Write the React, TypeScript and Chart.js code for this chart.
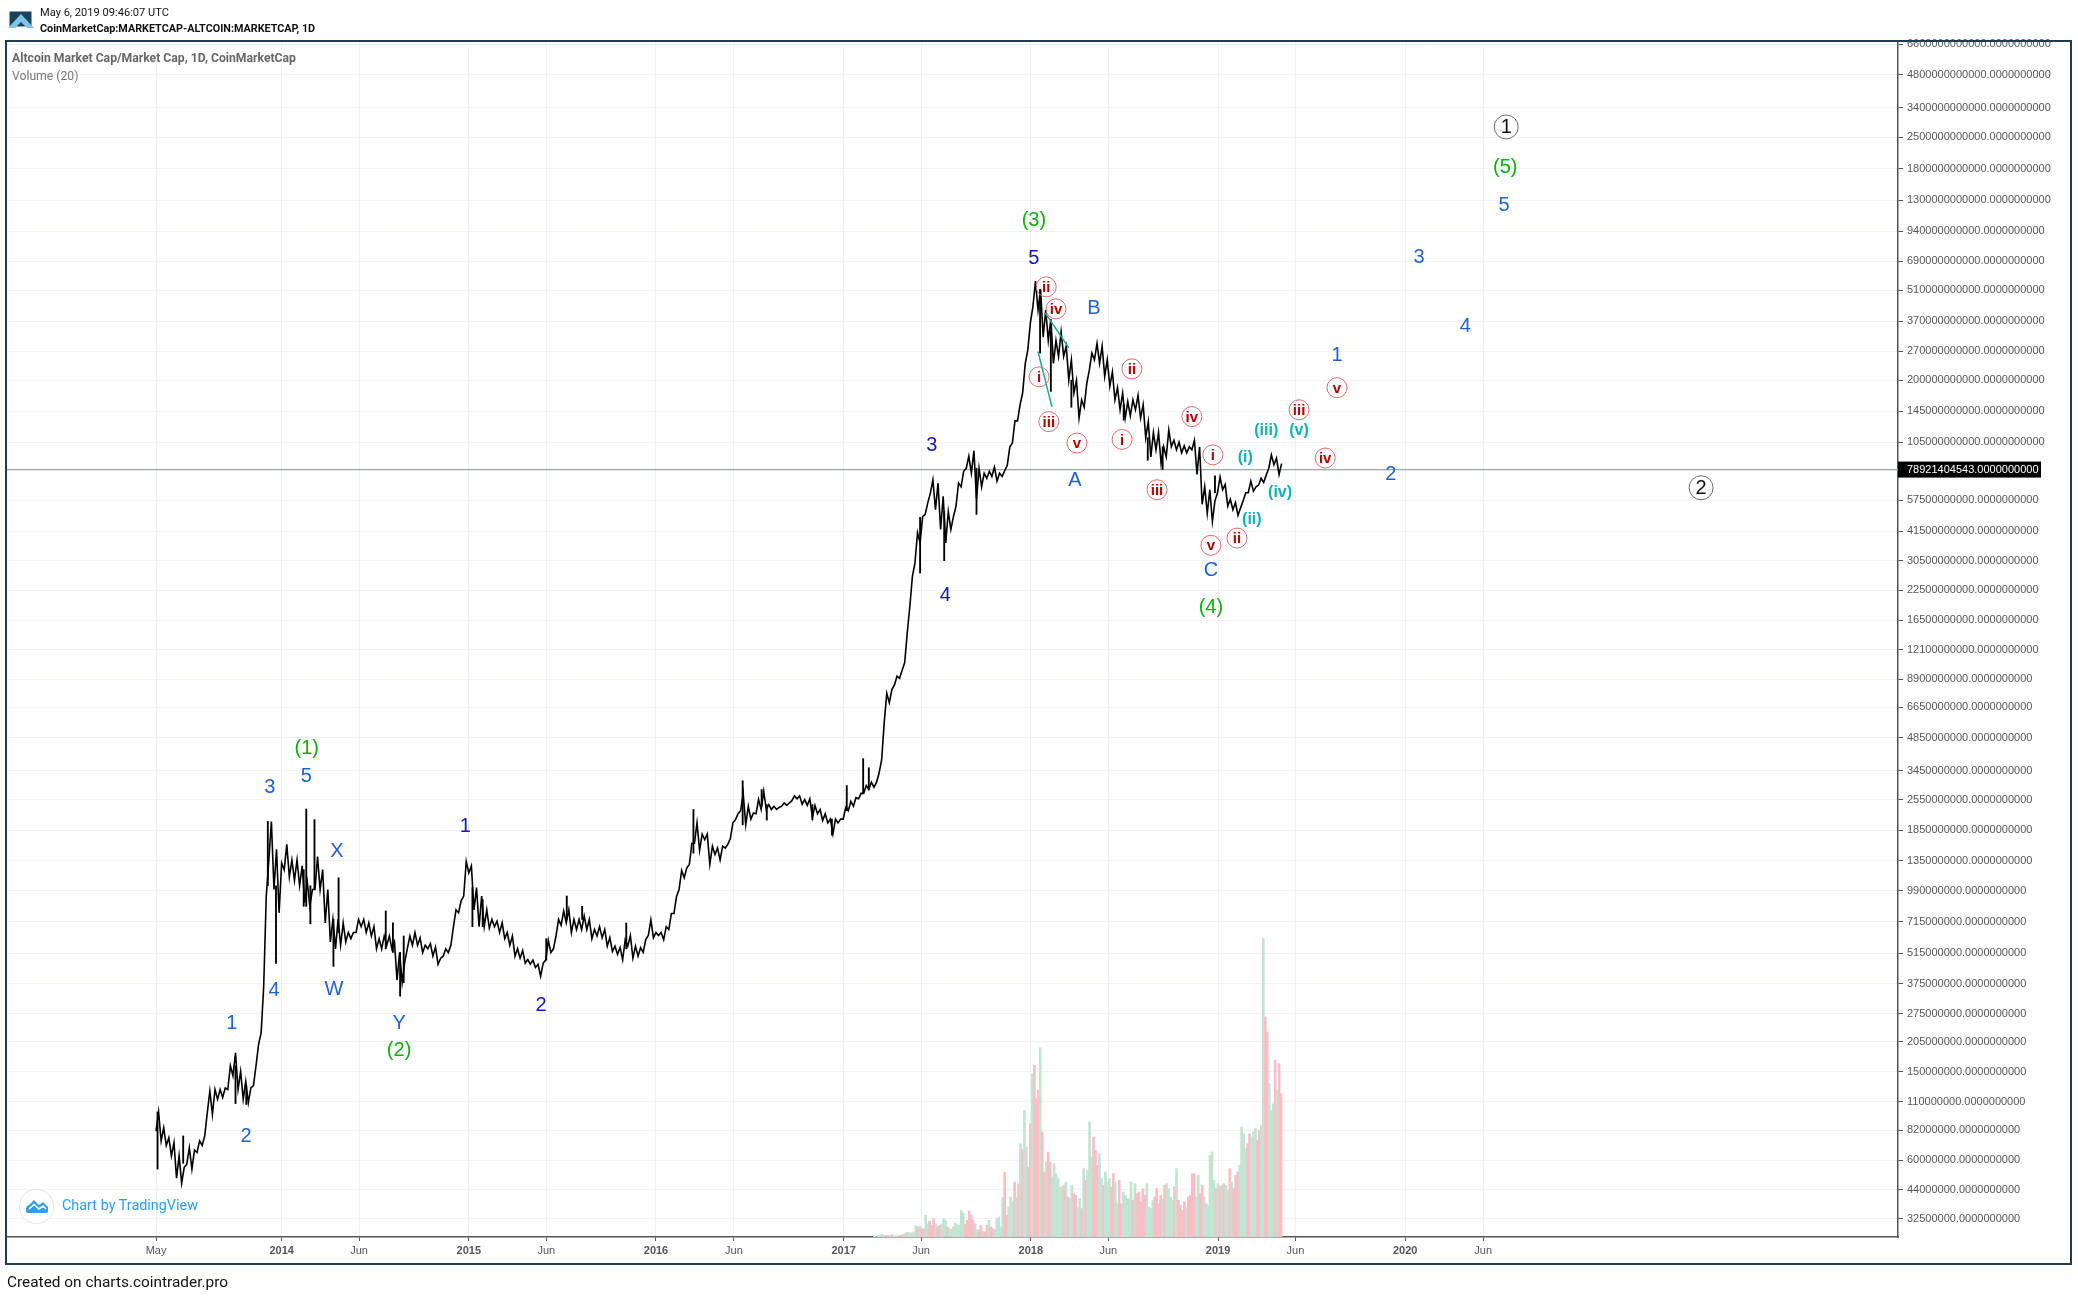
import React, { useEffect, useRef } from "react";
import { Chart, registerables } from "chart.js";

Chart.register(...registerables);

// Day numbers count from 1 May 2013. Caps are in billions of USD.
const tickDays = [0, 245, 396, 610, 761, 975, 1127, 1341, 1492, 1706, 1857, 2071, 2222, 2436, 2588];
const tickLabels = ["May", "2014", "Jun", "2015", "Jun", "2016", "Jun", "2017", "Jun", "2018", "Jun", "2019", "Jun", "2020", "Jun"];
const priceTicks = [
  6600000000000, 4800000000000, 3400000000000, 2500000000000, 1800000000000, 1300000000000,
  940000000000, 690000000000, 510000000000, 370000000000, 270000000000, 200000000000,
  145000000000, 105000000000, 57500000000, 41500000000, 30500000000, 22500000000, 16500000000,
  12100000000, 8900000000, 6650000000, 4850000000, 3450000000, 2550000000, 1850000000,
  1350000000, 990000000, 715000000, 515000000, 375000000, 275000000, 205000000, 150000000,
  110000000, 82000000, 60000000, 44000000, 32500000,
];
const lastPrice = 78921404543;

// Ten-day low and high of the index.
const bandLow = [
  0.081, 0.0732, 0.0698, 0.0627, 0.0497, 0.0472, 0.0575, 0.0546, 0.0649, 0.0698,
  0.0983, 0.0965, 0.113, 0.115, 0.125, 0.144, 0.125, 0.113, 0.109, 0.13,
  0.2, 0.367, 1.36, 1.0, 0.785, 1.23, 1.14, 1.1, 1.04, 0.872,
  0.84, 1.0, 1.0, 0.707, 0.58, 0.54, 0.56, 0.58, 0.6, 0.64,
  0.68, 0.64, 0.617, 0.54, 0.54, 0.56, 0.54, 0.39, 0.38, 0.54,
  0.56, 0.56, 0.519, 0.54, 0.5, 0.46, 0.5, 0.519, 0.68, 0.785,
  0.935, 1.19, 0.81, 0.68, 0.68, 0.67, 0.68, 0.64, 0.6, 0.56,
  0.5, 0.49, 0.465, 0.46, 0.445, 0.406, 0.48, 0.52, 0.617, 0.69,
  0.707, 0.64, 0.66, 0.66, 0.66, 0.6, 0.617, 0.606, 0.555, 0.525,
  0.51, 0.482, 0.555, 0.49, 0.5, 0.52, 0.62, 0.606, 0.62, 0.594,
  0.66, 0.78, 1.0, 1.13, 1.3, 1.62, 1.5, 1.68, 1.3, 1.44,
  1.36, 1.54, 1.7, 2.07, 2.27, 1.96, 2.08, 2.2, 2.3, 2.3,
  2.3, 2.3, 2.38, 2.4, 2.52, 2.57, 2.43, 2.4, 2.12, 2.2,
  2.05, 2.0, 1.78, 2.0, 2.08, 2.27, 2.38, 2.57, 2.72, 2.83,
  2.9, 3.36, 5.66, 6.98, 8.4, 9.0, 10.6, 19, 29.9, 36.8,
  49.6, 61.7, 52, 42.3, 36.8, 42.3, 53.9, 66, 80, 76,
  58, 66, 72, 73.5, 70, 73.5, 82.5, 104, 131, 175,
  273, 430, 415, 313, 302, 238, 256, 256, 200, 175,
  135, 151, 222, 247, 238, 208, 188, 163, 147, 135,
  138, 147, 135, 110, 90, 97, 84, 90, 100, 97,
  94, 94, 97, 75, 55, 50, 46, 62, 64, 54,
  52, 49, 57, 62, 63, 67, 69, 80, 83, 75,
];
const bandHigh = [
  0.099, 0.084, 0.0757, 0.072, 0.0627, 0.0556, 0.0683, 0.0666, 0.0732, 0.0771,
  0.123, 0.125, 0.125, 0.127, 0.16, 0.183, 0.151, 0.136, 0.127, 0.16,
  0.226, 0.935, 2.03, 1.52, 1.32, 1.6, 1.36, 1.36, 1.28, 1.08,
  1.0, 1.41, 1.23, 1.0, 0.733, 0.733, 0.707, 0.64, 0.64, 0.733,
  0.733, 0.707, 0.68, 0.6, 0.617, 0.617, 0.58, 0.519, 0.47, 0.617,
  0.64, 0.605, 0.56, 0.57, 0.55, 0.49, 0.54, 0.56, 0.81, 0.89,
  1.34, 1.28, 1.02, 0.935, 0.81, 0.733, 0.72, 0.707, 0.64, 0.617,
  0.54, 0.53, 0.483, 0.48, 0.46, 0.465, 0.59, 0.54, 0.733, 0.8,
  0.81, 0.733, 0.733, 0.76, 0.733, 0.66, 0.68, 0.66, 0.606, 0.555,
  0.547, 0.594, 0.62, 0.555, 0.547, 0.594, 0.73, 0.64, 0.64, 0.68,
  0.78, 0.93, 1.22, 1.25, 1.62, 2.0, 1.78, 1.78, 1.57, 1.54,
  1.57, 1.6, 2.0, 2.2, 2.72, 2.38, 2.22, 2.55, 2.78, 2.42,
  2.38, 2.35, 2.46, 2.46, 2.65, 2.65, 2.55, 2.57, 2.4, 2.3,
  2.2, 2.08, 2.08, 2.08, 2.35, 2.5, 2.6, 2.72, 2.95, 3.05,
  3.05, 3.85, 7.7, 8.0, 9.2, 9.8, 14.5, 26, 40.9, 48.4,
  55.8, 71, 68.5, 59.8, 51, 48.4, 68.5, 77.5, 90.6, 96,
  80, 76, 77.5, 81, 76, 78, 100, 131, 155, 237,
  362, 560, 515, 415, 378, 302, 331, 285, 247, 200,
  163, 193, 265, 293, 285, 247, 218, 185, 175, 160,
  163, 171, 155, 130, 116, 116, 100, 119, 107, 105,
  101, 100, 107, 100, 66, 64, 57, 73, 67.5, 58,
  56, 53, 62, 70, 66, 72, 74.5, 92, 89, 84,
];
const bandStepDays = 10;

// Single-session wicks.
const spikeDay = [3, 53, 155, 176, 218, 234, 288, 293, 301, 309, 346, 356, 448, 462, 476, 483, 617, 637, 761, 801, 831, 917, 1048, 1144, 1181, 1191, 1280, 1318, 1347, 1379, 1390, 1490, 1537, 1600, 1724, 1745, 1785, 1887, 1934, 1963, 2065];
const spikeLow = [0.0546, 0.058, 0.108, 0.107, 1.04, 0.464, 0.84, 0.84, 0.7, 1.0, 0.45, 0.64, 0.54, 0.52, 0.33, 0.38, 0.68, 0.68, 0.48, 0.733, 0.733, 0.54, 1.46, 1.96, 2.38, 2.06, 2.07, 1.76, 2.27, 2.72, 2.83, 26.9, 30.6, 49.5, 265, 178, 151, 132, 87, 79, 62];
const spikeHigh = [0.099, 0.0771, 0.16, 0.13, 2.03, 1.04, 1.23, 2.31, 1.04, 2.07, 0.733, 1.13, 0.8, 0.707, 0.52, 0.617, 1.02, 0.9, 0.6, 0.935, 0.84, 0.706, 2.3, 3.1, 2.83, 2.42, 2.42, 2.08, 2.95, 3.9, 3.55, 48, 51, 80, 515, 335, 200, 155, 110, 100, 74];

// Volume, in tens of millions of USD, and the session direction (g up, r down).
const volumeValues = [
  3, 1, 4, 6, 8, 5, 5, 4, 4, 7,
  3, 3, 3, 4, 6, 8, 12, 14, 12, 12,
  15, 34, 30, 32, 25, 25, 65, 40, 48, 35,
  55, 40, 32, 35, 38, 55, 50, 30, 25, 22,
  30, 42, 38, 35, 80, 72, 38, 50, 78, 65,
  50, 40, 22, 20, 35, 18, 15, 35, 50, 30,
  25, 22, 55, 60, 30, 118, 195, 65, 90, 120,
  105, 165, 118, 160, 280, 262, 380, 270, 210, 340,
  490, 515, 415, 440, 568, 315, 195, 225, 255, 225,
  180, 220, 190, 175, 150, 150, 155, 165, 120, 115,
  155, 130, 125, 90, 115, 85, 205, 170, 200, 345,
  240, 300, 260, 215, 250, 175, 155, 195, 165, 175,
  150, 190, 165, 100, 170, 100, 135, 125, 115, 115,
  165, 110, 160, 130, 135, 105, 145, 125, 160, 90,
  85, 110, 120, 145, 100, 125, 115, 155, 160, 145,
  120, 110, 150, 205, 110, 95, 80, 105, 90, 120,
  125, 190, 190, 120, 185, 130, 155, 120, 100, 95,
  245, 255, 170, 145, 160, 150, 155, 160, 155, 140,
  205, 165, 145, 185, 195, 215, 330, 310, 265, 280,
  310, 300, 315, 325, 290, 320, 335, 895, 660, 615,
  460, 380, 400, 530, 440, 520, 430,
];
const volumeSides =
  "ggggggrrgr" +
  "ggrrrgrggg" +
  "ggrgrrggrr" +
  "rgrrgggrgg" +
  "ggggggrrrr" +
  "rggrrgrrgr" +
  "rgggggrrgg" +
  "grgrgrggrr" +
  "grrrgrrgrr" +
  "ggggggrgrg" +
  "grrggrgrgg" +
  "grrrggrggg" +
  "rrggrrgggg" +
  "grgrrrrrgg" +
  "ggrrrrgrgg" +
  "ggrgrrrrgr" +
  "rrrggrrggg" +
  "gggrgrgrgg" +
  "rgrrrggggr" +
  "rgggrrggrr" +
  "gggrgrr";
const volumeLastDay = 2194;
const volumeStepDays = 3.85;

// Wave counts: [text, day, cap in billions].
const blueWave: [string, number, number][] = [
  ["5", 293, 3.27], ["3", 222, 2.91], ["1", 148, 0.25], ["2", 175.5, 0.0775], ["4", 230, 0.353],
  ["X", 353, 1.5], ["W", 347, 0.356], ["Y", 474, 0.25], ["B", 1829, 424], ["A", 1792, 71],
  ["C", 2057, 27.9], ["1", 2303, 260], ["2", 2408, 76], ["5", 2629, 1238], ["3", 2463, 721], ["4", 2553, 352],
];
const navyWave: [string, number, number][] = [
  ["1", 603, 1.95], ["2", 751, 0.302], ["3", 1513, 102], ["4", 1539, 21.5], ["5", 1712, 713],
];
const greenWave: [string, number, number][] = [
  ["(1)", 294, 4.4], ["(2)", 474, 0.19], ["(3)", 1712, 1060], ["(4)", 2057, 19], ["(5)", 2631, 1837],
];
const tealWave: [string, number, number][] = [
  ["(iii)", 2165, 120], ["(v)", 2229, 120], ["(i)", 2124, 90], ["(iv)", 2192, 62.5], ["(ii)", 2137, 47.4],
];
const redWave: [string, number, number][] = [
  ["ii", 1736, 528], ["iv", 1755, 420], ["i", 1722, 207], ["iii", 1741, 130], ["v", 1796, 104],
  ["ii", 1903, 225], ["i", 1884, 108], ["iii", 1952, 64], ["iv", 2020, 137], ["i", 2061, 92],
  ["v", 2057, 35.9], ["ii", 2108, 38.7], ["v", 2303, 185], ["iii", 2229, 147], ["iv", 2280, 89],
];
const blackWave: [string, number, number][] = [
  ["1", 2633, 2785], ["2", 3013, 65.3],
];
const trendA: [number, number][] = [[1720, 269], [1747, 152]];
const trendB: [number, number][] = [[1734, 403], [1780, 280]];

const xMin = -290.6;
const xMax = 3397;
const FONT = "'Liberation Sans', Arial, sans-serif";

function buildPriceLine() {
  const pts: { x: number; y: number }[] = [];
  bandLow.forEach((lo, i) => {
    pts.push({ x: i * bandStepDays, y: lo * 1e9 });
    pts.push({ x: i * bandStepDays + bandStepDays / 2, y: bandHigh[i] * 1e9 });
  });
  return pts;
}

const overlayPlugin = {
  id: "waveLabels",
  afterDatasetsDraw(chart: any) {
    const { ctx, scales, chartArea } = chart;
    const sx = scales.x;
    const sy = scales.y;
    ctx.save();
    ctx.textAlign = "center";
    ctx.textBaseline = "middle";
    const text = (rows: [string, number, number][], font: string, color: string) => {
      ctx.font = font;
      ctx.fillStyle = color;
      rows.forEach(([t, d, v]) => {
        ctx.fillText(t, sx.getPixelForValue(d), sy.getPixelForValue(v * 1e9) + 1);
      });
    };
    text(blueWave, `20px ${FONT}`, "#1e62cf");
    text(navyWave, `20px ${FONT}`, "#1418ae");
    text(greenWave, `20px ${FONT}`, "#0cb10c");
    text(tealWave, `bold 16px ${FONT}`, "#10b2b6");
    const circled = (rows: [string, number, number][], r: number, stroke: string, font: string, color: string) => {
      rows.forEach(([t, d, v]) => {
        const px = sx.getPixelForValue(d);
        const py = sy.getPixelForValue(v * 1e9);
        ctx.beginPath();
        ctx.arc(px, py, r, 0, Math.PI * 2);
        ctx.lineWidth = 1;
        ctx.strokeStyle = stroke;
        ctx.stroke();
        ctx.font = font;
        ctx.fillStyle = color;
        ctx.fillText(t, px, py + 1);
      });
    };
    circled(redWave, 10, "#e36b6b", `bold 15px ${FONT}`, "#b00000");
    circled(blackWave, 12, "#6a6a6a", `20px ${FONT}`, "#111111");

    const y = sy.getPixelForValue(lastPrice);
    ctx.fillStyle = "#000000";
    ctx.fillRect(chartArea.right, y - 8, 143, 16);
    ctx.fillStyle = "#ffffff";
    ctx.font = `11px ${FONT}`;
    ctx.textAlign = "left";
    ctx.fillText(lastPrice.toFixed(10), chartArea.right + 9, y + 0.5);
    ctx.restore();
  },
};

export default function App() {
  const ref = useRef<HTMLCanvasElement | null>(null);
  useEffect(() => {
    document.body.style.margin = "0";
    const chart = new Chart(ref.current as HTMLCanvasElement, {
      type: "bar",
      data: {
        datasets: [
          {
            type: "line",
            label: "Last",
            data: [{ x: xMin, y: lastPrice }, { x: xMax, y: lastPrice }],
            borderColor: "#9ba5a8",
            borderWidth: 1.3,
            pointRadius: 0,
            yAxisID: "y",
            order: 3,
          },
          {
            type: "line",
            label: "Altcoin Market Cap",
            data: buildPriceLine(),
            borderColor: "#000000",
            borderWidth: 1.6,
            pointRadius: 0,
            tension: 0,
            yAxisID: "y",
            order: 1,
          },
          {
            type: "bar",
            label: "Wicks",
            data: spikeDay.map((d, i) => ({ x: d, y: [spikeLow[i] * 1e9, spikeHigh[i] * 1e9] })),
            backgroundColor: "#000000",
            barThickness: 1.2,
            grouped: false,
            yAxisID: "y",
            order: 2,
          },
          {
            type: "line",
            label: "Trend A",
            data: trendA.map(([x, v]) => ({ x, y: v * 1e9 })),
            borderColor: "#1fa58a",
            borderWidth: 1.5,
            pointRadius: 0,
            yAxisID: "y",
            order: 0,
          },
          {
            type: "line",
            label: "Trend B",
            data: trendB.map(([x, v]) => ({ x, y: v * 1e9 })),
            borderColor: "#1fa58a",
            borderWidth: 1.5,
            pointRadius: 0,
            yAxisID: "y",
            order: 0,
          },
          {
            type: "bar",
            label: "Volume",
            data: volumeValues.map((v, i) => ({
              x: volumeLastDay - (volumeValues.length - 1 - i) * volumeStepDays,
              y: v,
            })),
            backgroundColor: volumeValues.map((_, i) => (volumeSides[i] === "r" ? "#f9bec6" : "#c1e4d3")),
            barThickness: 2,
            grouped: false,
            yAxisID: "vol",
            order: 5,
          },
        ],
      } as any,
      options: {
        responsive: false,
        devicePixelRatio: 1,
        animation: false,
        layout: { padding: { left: 7, top: 42, right: 6, bottom: 31 } },
        plugins: { legend: { display: false }, tooltip: { enabled: false }, title: { display: false } },
        scales: {
          x: {
            type: "linear",
            min: xMin,
            max: xMax,
            offset: false,
            bounds: "data",
            afterBuildTicks: (s: any) => {
              s.ticks = tickDays.map((value) => ({ value }));
            },
            afterFit: (s: any) => {
              s.height = 28;
            },
            border: { color: "#555555", width: 1.5 },
            grid: { offset: false, color: "#eef2f8", lineWidth: 1, tickColor: "#555555", tickLength: 4 },
            ticks: {
              autoSkip: false,
              maxRotation: 0,
              padding: 3,
              color: "#555555",
              font: (c: any) => ({
                family: FONT,
                size: 11,
                weight: /^\d/.test(tickLabels[tickDays.indexOf(c.tick?.value)] || "") ? "bold" : "normal",
              }),
              callback: (v: any) => tickLabels[tickDays.indexOf(v)] ?? "",
            },
          },
          y: {
            type: "logarithmic",
            position: "right",
            min: 2.695e7,
            max: 6.74e12,
            bounds: "data",
            afterBuildTicks: (s: any) => {
              s.ticks = priceTicks.map((value) => ({ value }));
            },
            afterFit: (s: any) => {
              s.width = 174;
            },
            border: { color: "#555555", width: 1.5 },
            grid: { color: "#f0f3fa", lineWidth: 1, tickColor: "#555555", tickLength: 5 },
            ticks: {
              autoSkip: false,
              padding: 4,
              color: "#555555",
              font: { family: FONT, size: 11 },
              callback: (v: any) => Number(v).toFixed(10),
            },
          },
          vol: {
            type: "linear",
            display: false,
            min: 0,
            max: 3585,
          },
        },
      } as any,
      plugins: [overlayPlugin],
    });
    return () => chart.destroy();
  }, []);

  return (
    <div style={{ position: "absolute", left: 0, top: 0, width: 2078, height: 1296, background: "#fff", overflow: "hidden", fontFamily: "Roboto, sans-serif" }}>
      <canvas ref={ref} width={2078} height={1296} style={{ position: "absolute", left: 0, top: 0, width: 2078, height: 1296 }} />
      <div style={{ position: "absolute", left: 5, top: 40, width: 2063, height: 1221, border: "2.5px solid #1f3c50", pointerEvents: "none" }} />
      <svg width="26" height="20" style={{ position: "absolute", left: 8, top: 10 }} viewBox="0 0 26 20">
        <rect x="1.5" y="1.5" width="22" height="15" fill="#1c4259" />
        <path d="M0 18 L13 4 L26 18 L19 18 L13 12 L7 18 Z" fill="#7cc4ea" />
      </svg>
      <div style={{ position: "absolute", left: 40, top: 6, fontSize: 11.1, lineHeight: "14px", color: "#111" }}>May 6, 2019 09:46:07 UTC</div>
      <div style={{ position: "absolute", left: 40, top: 22, fontSize: 10.8, lineHeight: "14px", fontWeight: 700, color: "#111" }}>CoinMarketCap:MARKETCAP-ALTCOIN:MARKETCAP, 1D</div>
      <div style={{ position: "absolute", left: 12, top: 50, fontSize: 12.2, lineHeight: "16px", fontWeight: 700, color: "#666" }}>Altcoin Market Cap/Market Cap, 1D, CoinMarketCap</div>
      <div style={{ position: "absolute", left: 12, top: 68, fontSize: 12.2, lineHeight: "16px", color: "#777" }}>Volume (20)</div>
      <div style={{ position: "absolute", left: 19, top: 1189, width: 33, height: 33, borderRadius: 17, border: "1px solid #e4e6ea", background: "#fff" }}>
        <svg width="33" height="33" viewBox="0 0 33 33">
          <path d="M6 21 L6 19 Q6 16 9 15 L14 10 L19 15 L23 12 L28 17 L28 21 Q28 23 25 23 L9 23 Q6 23 6 21 Z" fill="#2f9ff0" />
          <path d="M9 19 L14 14.5 L19 19 L23 16 L26 19" fill="none" stroke="#fff" strokeWidth="1.6" />
        </svg>
      </div>
      <div style={{ position: "absolute", left: 62, top: 1197, fontSize: 14.4, lineHeight: "18px", color: "#2a9df4" }}>Chart by TradingView</div>
      <div style={{ position: "absolute", left: 7, top: 1273, fontSize: 15.4, lineHeight: "18px", color: "#111" }}>Created on charts.cointrader.pro</div>
    </div>
  );
}
